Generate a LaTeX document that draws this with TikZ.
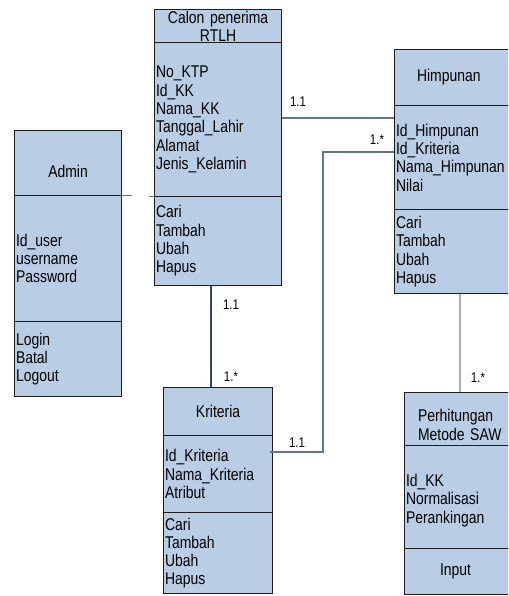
\documentclass[tikz,border=0pt]{standalone}
\usepackage{fontspec}
\setmainfont{Liberation Sans}[FakeStretch=0.82]
\usetikzlibrary{calc}
\definecolor{boxfill}{RGB}{185,205,229}
\definecolor{boxline}{RGB}{30,30,30}
\definecolor{linksteel}{RGB}{92,118,144}
\definecolor{linkdark}{RGB}{48,74,98}
\definecolor{linklight}{RGB}{166,176,186}
\tikzset{
  compart/.style={draw=boxline, fill=boxfill, line width=1.1pt, anchor=north west,
    inner xsep=1.5pt, inner ysep=0pt, font=\fontsize{17}{18.3}\selectfont},
  assoc/.style={draw=linksteel, line width=1.1pt},
  assocdark/.style={draw=linkdark, line width=2pt},
  assoclight/.style={draw=linklight, line width=1.1pt},
  mult/.style={font=\fontsize{14}{16}\selectfont, inner sep=0pt}
}
% one compartment of a class box: name, x, y, text width, height, alignment, text
\newcommand\umlpart[7]{%
  \node[compart, text width=#4pt, minimum height=#5pt, align=#6] (#1) at (#2,#3) {#7};}
\begin{document}
\begin{tikzpicture}[x=1pt,y=-1pt]
\useasboundingbox (0,0) rectangle (508,596);
\clip (0,0) rectangle (508,596);

% Calon penerima RTLH
\umlpart{calonH}{154}{9}{124}{33}{center}{Calon penerima\\RTLH}
\umlpart{calonA}{154}{42}{124}{154}{left}{No\_KTP\\Id\_KK\\Nama\_KK\\Tanggal\_Lahir\\Alamat\\Jenis\_Kelamin}
\umlpart{calonM}{154}{196}{124}{89}{left}{Cari\\Tambah\\Ubah\\Hapus}

% Admin
\umlpart{adminH}{14}{130}{104}{65}{center}{\raisebox{-30pt}{Admin}}
\umlpart{adminA}{14}{195}{104}{126}{left}{Id\_user\\username\\Password}
\umlpart{adminM}{14}{321}{104}{75}{left}{Login\\Batal\\Logout}

% Himpunan (runs past the right edge)
\umlpart{himH}{394}{49}{150}{56}{left}{\hspace*{21pt}Himpunan}
\umlpart{himA}{394}{105}{150}{104}{left}{Id\_Himpunan\\Id\_Kriteria\\Nama\_Himpunan\\Nilai}
\umlpart{himM}{394}{209}{150}{84}{left}{Cari\\Tambah\\Ubah\\Hapus}

% Kriteria
\umlpart{kritH}{163}{387}{106}{48}{center}{Kriteria}
\umlpart{kritA}{163}{435}{106}{77}{left}{Id\_Kriteria\\Nama\_Kriteria\\Atribut}
\umlpart{kritM}{163}{512}{106}{81}{left}{Cari\\Tambah\\Ubah\\Hapus}

% Perhitungan Metode SAW (runs past the right edge)
\umlpart{perhH}{404}{392}{150}{53}{left}{\rule{0pt}{24pt}\hspace*{12pt}Perhitungan\\\hspace*{12pt}Metode SAW}
\umlpart{perhA}{404}{445}{150}{103}{left}{\rule{0pt}{19pt}Id\_KK\\Normalisasi\\Perankingan}
\umlpart{perhM}{404}{548}{150}{46}{left}{\hspace*{34pt}Input}

% Admin -- Calon
\draw[assoc, line width=0.9pt] (adminA.north east) -- ++(10,0);
\draw[assoc, line width=0.9pt] (calonM.north west) -- ++(-5,0);

% Calon -- Himpunan
\coordinate (chEnd) at ($(himA.north west)+(0,13)$);
\draw[assoc] (chEnd -| calonA.east) -- (chEnd);
\node[mult] (m1) at (298,102) {1.1};

% Kriteria -- Himpunan
\coordinate (khK) at ($(kritA.north east)+(-3,17)$);
\coordinate (khH) at ($(himA.north west)+(0,47)$);
\draw[assoc] (khK) -| ($(khH)+(-71,0)$) -- (khH);
\node[mult] (m2) at (297,443) {1.1};
\node[mult] (m3) at (377,140) {1.*};

% Calon -- Kriteria
\draw[assocdark] ($(calonM.south)+(-7.5,0)$) -- ($(kritH.north)+(-7.5,0)$);
\node[mult] (m4) at (231,305) {1.1};
\node[mult] (m5) at (231,377) {1.*};

% Himpunan -- Perhitungan
\draw[assoclight] (himM.south west) ++(66,0) coordinate (hpTop) -- (hpTop |- perhH.north);
\node[mult] (m6) at (478,378) {1.*};
\end{tikzpicture}
\end{document}
